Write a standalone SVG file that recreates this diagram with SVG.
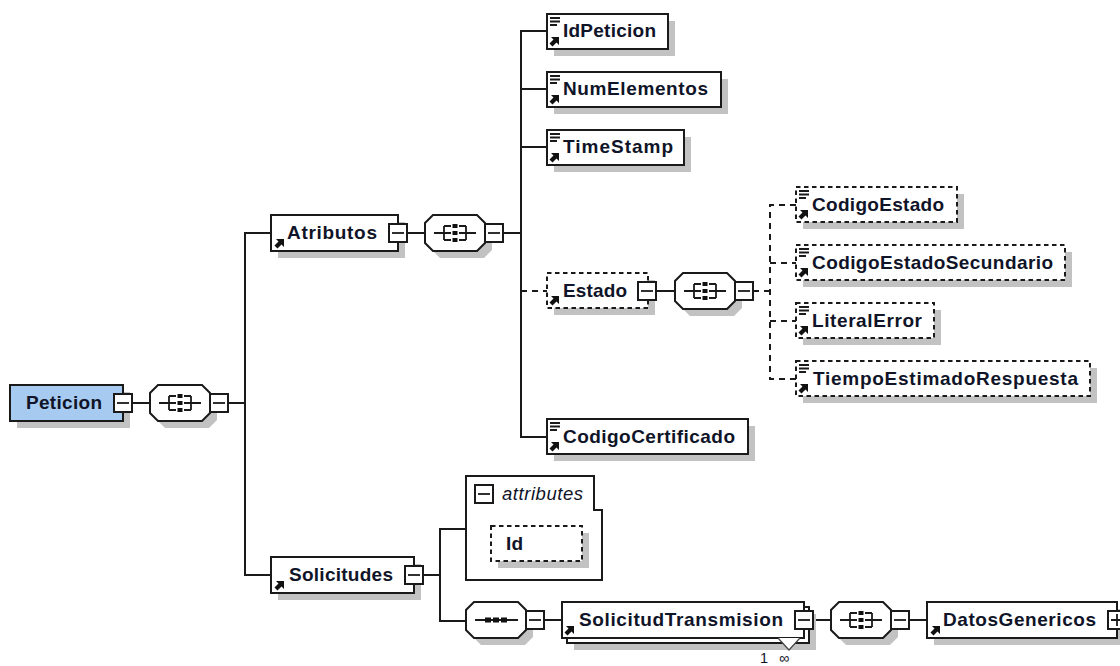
<svg xmlns="http://www.w3.org/2000/svg" xmlns:xlink="http://www.w3.org/1999/xlink" width="1120" height="666" viewBox="0 0 1120 666">
<style>
.b{fill:#fff;stroke:#1a1a1a;stroke-width:2}
.d{fill:#fff;stroke:#1a1a1a;stroke-width:2;stroke-dasharray:4.500 3.500}
.s{fill:#c2c2c2;stroke:none}
.c{fill:none;stroke:#1a1a1a;stroke-width:2}
.cd{fill:none;stroke:#1a1a1a;stroke-width:2;stroke-dasharray:6 5}
.i{fill:none;stroke:#1a1a1a;stroke-width:1.800}
.t{font-family:"Liberation Sans",Arial,sans-serif;font-weight:700;font-size:19px;fill:#101428}
.a{font-family:"Liberation Sans",Arial,sans-serif;font-style:italic;font-size:18.500px;fill:#101428}
.o{font-family:"Liberation Sans",Arial,sans-serif;font-size:14.500px;fill:#101428}
</style>
<defs>
<g id="minus"><rect class="b" x="0" y="-9" width="18" height="18"/><path class="i" d="M3 0H15"/></g>
<g id="plus"><rect class="b" x="0" y="-9" width="18" height="18"/><path class="i" d="M3 0H15M9 -6V6"/></g>
<g id="oct"><path class="s" d="M15 -11H59L67 -3V17L59 25H15L7 17V-3Z"/><path class="b" d="M8 -18H52L60 -10V10L52 18H8L0 10V-10Z"/></g>
<g id="choice"><use xlink:href="#oct"/><path class="i" d="M9 0H19M19 -7V7M19 -7H26M19 0H26M19 7H26M34 -7H41M34 0H41M34 7H41M41 -7V7M41 0H51"/><path fill="#111" d="M27.500 -9H32.500V-5H27.500ZM27.500 -2H32.500V2H27.500ZM27.500 5H32.500V9H27.500Z"/></g>
<g id="seq"><use xlink:href="#oct"/><path class="i" d="M9 0H52"/><path fill="#111" d="M19 -2.500H25V2.500H19ZM27 -2.500H33V2.500H27ZM35 -2.500H41V2.500H35Z"/></g>
<path id="arr" fill="#111" d="M3 -10H11V-2L8.500 -4.500L4.500 -0.500L1.500 -3.500L5.500 -7.500Z"/>
<g id="ln"><path class="i" stroke-width="1.500" d="M0 0H10M0 3.500H10M0 7H7"/></g>
</defs>
<g id="connectors">
<path id="c1" class="c" d="M132 403H150"/>
<path id="c2" class="c" d="M228 403H245"/>
<path id="c3" class="c" d="M271 233H245V575H271"/>
<path id="c4" class="c" d="M407 233H425"/>
<path id="c5" class="c" d="M503 233H521"/>
<path id="c6" class="c" d="M547 31H521V437H547"/>
<path id="c7" class="c" d="M521 89H547M521 147H547"/>
<path id="c8" class="cd" d="M521 291H547"/>
<path id="c9" class="c" d="M656 291H675"/>
<path id="c10" class="cd" d="M753 291H770"/>
<path id="c11" class="cd" d="M796 205H770V379H796"/>
<path id="c12" class="cd" d="M770 263H796M770 321H796"/>
<path id="c13" class="c" d="M423 575H440"/>
<path id="c14" class="c" d="M466 529H440V621H466"/>
<path id="c15" class="c" d="M544 620H563"/>
<path id="c16" class="c" d="M813 620H831"/>
<path id="c17" class="c" d="M909 620H927"/>
</g>
<g id="Peticion"><rect class="s" x="17" y="392" width="113" height="36"/><rect x="10" y="385" width="113" height="36" fill="#a6caf0" stroke="#1a1a1a" stroke-width="2"/><text class="t" x="26" y="409" textLength="76" lengthAdjust="spacing">Peticion</text><use xlink:href="#minus" x="114" y="403"/></g>
<g id="choice1"><use xlink:href="#choice" x="150" y="403"/><use xlink:href="#minus" x="210" y="403"/></g>
<g id="Atributos"><rect class="s" x="278" y="222" width="127" height="36"/><rect class="b" x="271" y="215" width="127" height="36"/><use xlink:href="#arr" x="273" y="249"/><text class="t" x="287" y="239" textLength="90" lengthAdjust="spacing">Atributos</text><use xlink:href="#minus" x="389" y="233"/></g>
<g id="choice2"><use xlink:href="#choice" x="425" y="233"/><use xlink:href="#minus" x="485" y="233"/></g>
<g id="IdPeticion"><rect class="s" x="554" y="21" width="121" height="35"/><rect class="b" x="547" y="14" width="121" height="35"/><use xlink:href="#ln" x="550" y="18"/><use xlink:href="#arr" x="548" y="47"/><text class="t" x="563" y="37" textLength="93" lengthAdjust="spacing">IdPeticion</text></g>
<g id="NumElementos"><rect class="s" x="554" y="79" width="174" height="35"/><rect class="b" x="547" y="72" width="174" height="35"/><use xlink:href="#ln" x="550" y="76"/><use xlink:href="#arr" x="548" y="105"/><text class="t" x="563" y="95" textLength="145" lengthAdjust="spacing">NumElementos</text></g>
<g id="TimeStamp"><rect class="s" x="554" y="137" width="137" height="35"/><rect class="b" x="547" y="130" width="137" height="35"/><use xlink:href="#ln" x="550" y="134"/><use xlink:href="#arr" x="548" y="163"/><text class="t" x="563" y="153" textLength="110" lengthAdjust="spacing">TimeStamp</text></g>
<g id="Estado"><rect class="s" x="554" y="280" width="101" height="35"/><rect class="d" x="547" y="273" width="101" height="35"/><use xlink:href="#arr" x="548" y="306"/><text class="t" x="563" y="297" textLength="64" lengthAdjust="spacing">Estado</text><use xlink:href="#minus" x="638" y="291"/></g>
<g id="choice3"><use xlink:href="#choice" x="675" y="291"/><use xlink:href="#minus" x="735" y="291"/></g>
<g id="CodigoEstado"><rect class="s" x="803" y="194" width="161" height="35"/><rect class="d" x="796" y="187" width="161" height="35"/><use xlink:href="#ln" x="799" y="191"/><use xlink:href="#arr" x="797" y="220"/><text class="t" x="812" y="211" textLength="132" lengthAdjust="spacing">CodigoEstado</text></g>
<g id="CodigoEstadoSecundario"><rect class="s" x="803" y="252" width="269" height="35"/><rect class="d" x="796" y="245" width="269" height="35"/><use xlink:href="#ln" x="799" y="249"/><use xlink:href="#arr" x="797" y="278"/><text class="t" x="812" y="269" textLength="241" lengthAdjust="spacing">CodigoEstadoSecundario</text></g>
<g id="LiteralError"><rect class="s" x="803" y="310" width="138" height="35"/><rect class="d" x="796" y="303" width="138" height="35"/><use xlink:href="#ln" x="799" y="307"/><use xlink:href="#arr" x="797" y="336"/><text class="t" x="812" y="327" textLength="110" lengthAdjust="spacing">LiteralError</text></g>
<g id="TiempoEstimadoRespuesta"><rect class="s" x="803" y="368" width="294" height="35"/><rect class="d" x="796" y="361" width="294" height="35"/><use xlink:href="#ln" x="799" y="365"/><use xlink:href="#arr" x="797" y="394"/><text class="t" x="813" y="385" textLength="265" lengthAdjust="spacing">TiempoEstimadoRespuesta</text></g>
<g id="CodigoCertificado"><rect class="s" x="554" y="426" width="201" height="35"/><rect class="b" x="547" y="419" width="201" height="35"/><use xlink:href="#ln" x="550" y="423"/><use xlink:href="#arr" x="548" y="452"/><text class="t" x="563" y="443" textLength="172" lengthAdjust="spacing">CodigoCertificado</text></g>
<g id="Solicitudes"><rect class="s" x="278" y="564" width="143" height="36"/><rect class="b" x="271" y="557" width="143" height="36"/><use xlink:href="#arr" x="273" y="591"/><text class="t" x="289" y="581" textLength="104" lengthAdjust="spacing">Solicitudes</text><use xlink:href="#minus" x="405" y="575"/></g>
<g id="attributes"><path class="b" d="M466 476H594V510H602V580H466Z"/><use xlink:href="#minus" x="475" y="494"/><text class="a" x="502" y="500" textLength="81" lengthAdjust="spacing">attributes</text><rect class="s" x="498" y="533" width="91" height="35"/><rect class="d" x="491" y="526" width="91" height="35"/><text class="t" x="506" y="550" textLength="17" lengthAdjust="spacing">Id</text></g>
<g id="seq1"><use xlink:href="#seq" x="466" y="620"/><use xlink:href="#minus" x="526" y="620"/></g>
<g id="SolicitudTransmision"><rect class="s" x="574" y="614" width="242" height="36"/><rect class="b" x="567" y="607" width="242" height="36"/><rect class="b" x="562" y="602" width="242" height="36"/><path d="M778 638L789 650L800 638Z" fill="#fff" stroke="none"/><path d="M778 638L789 650L800 638" fill="none" stroke="#444" stroke-width="1.200"/><use xlink:href="#arr" x="563" y="636"/><text class="t" x="579" y="626" textLength="204" lengthAdjust="spacing">SolicitudTransmision</text><use xlink:href="#minus" x="795" y="620"/><text class="o" x="760" y="663">1</text><text class="o" x="779" y="663">∞</text></g>
<g id="choice4"><use xlink:href="#choice" x="831" y="620"/><use xlink:href="#minus" x="891" y="620"/></g>
<g id="DatosGenericos"><rect class="s" x="934" y="609" width="190" height="36"/><rect class="b" x="927" y="602" width="190" height="36"/><use xlink:href="#arr" x="929" y="636"/><text class="t" x="943" y="626" textLength="153" lengthAdjust="spacing">DatosGenericos</text><use xlink:href="#plus" x="1108" y="620"/></g>
</svg>
